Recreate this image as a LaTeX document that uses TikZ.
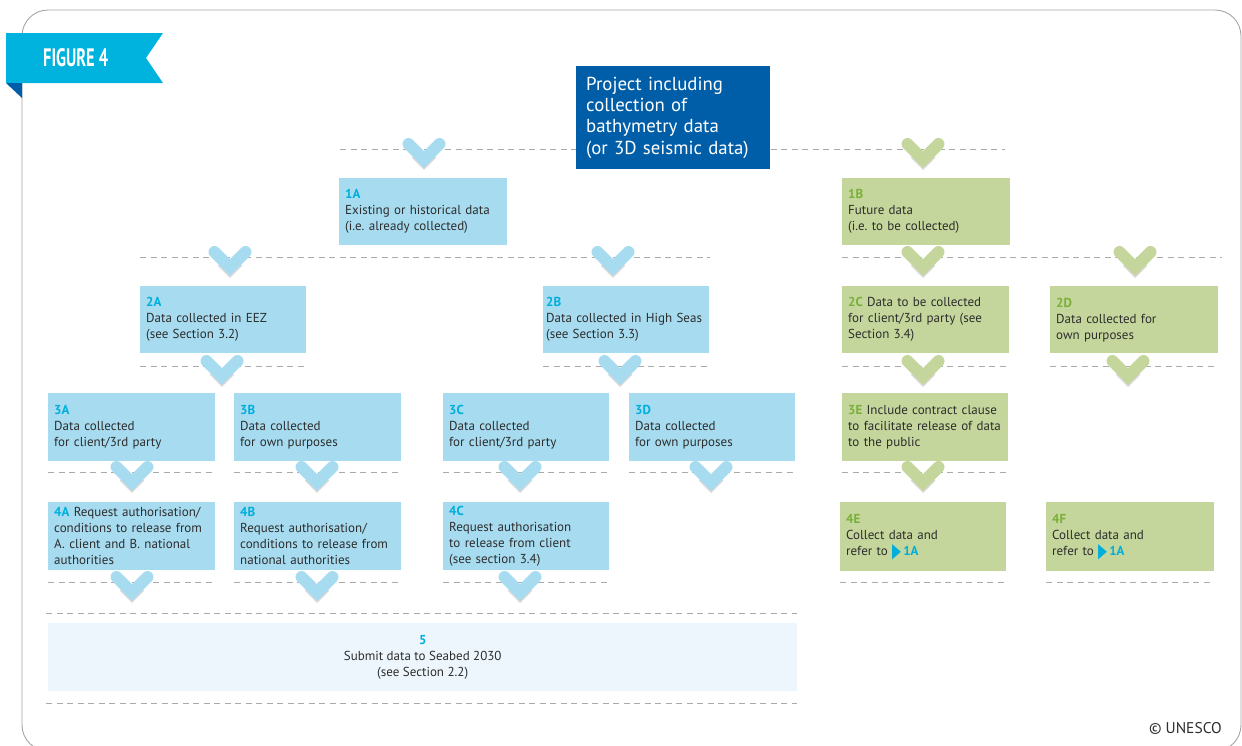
\documentclass[tikz,border=0pt]{standalone}
\usepackage{fontspec}
\setmainfont{PT Sans}
\newfontfamily\symfont{DejaVu Sans}
\usetikzlibrary{calc}
\definecolor{boxblue}{RGB}{167,219,240}
\definecolor{labcyan}{RGB}{0,174,219}
\definecolor{boxgreen}{RGB}{196,214,155}
\definecolor{labgreen}{RGB}{122,176,58}
\definecolor{navy}{RGB}{0,94,168}
\definecolor{bannercyan}{RGB}{0,178,222}
\definecolor{pale}{RGB}{237,246,252}
\definecolor{textgray}{RGB}{45,45,45}
\definecolor{dashgray}{RGB}{170,170,170}
\definecolor{framegray}{RGB}{165,165,165}
\newcommand\blab[1]{{\bfseries\color{labcyan}#1}}
\newcommand\glab[1]{{\bfseries\color{labgreen}#1}}
\newcommand\reftri{{\color{labcyan}\raisebox{-2pt}{\resizebox{9pt}{13pt}{\symfont ▶}}}\,\blab{1A}}
\newcommand\chevron[3]{%
  \draw[chevshadow] (#1-8,#2+4.5) -- (#1,#2+12.5) -- (#1+8,#2+4.5);
  \draw[#3] (#1-15.5,#2-5) -- (#1,#2+10.5) -- (#1+15.5,#2-5);}
\tikzset{
  bx/.style={rectangle, anchor=north west, inner xsep=6pt, inner ysep=0pt, align=left,
    font=\fontsize{13}{16}\selectfont, text=textgray, minimum height=67pt},
  bluebox/.style={bx, fill=boxblue},
  greenbox/.style={bx, fill=boxgreen},
  dline/.style={draw=dashgray, line width=1pt, dash pattern=on 6pt off 4.5pt},
  chevshadow/.style={draw=gray, opacity=0.3, line width=12pt, line cap=butt, line join=miter},
  chevb/.style={draw=boxblue, line width=12pt, line cap=round, line join=miter},
  chevg/.style={draw=boxgreen, line width=12pt, line cap=round, line join=miter},
}
\begin{document}
\begin{tikzpicture}[x=1pt,y=-1pt]
\useasboundingbox (0,0) rectangle (1242,745);
\clip (0,0) rectangle (1242,745);
% frame
\draw[framegray, line width=0.9pt, rounded corners=26pt] (22,10) rectangle (1241,751);
% banner
\fill[bannercyan] (6,33) -- (163,33) -- (146,58) -- (163,83) -- (6,83) -- cycle;
\fill[navy] (6,83) -- (22,83) -- (22,98) -- cycle;
\node[text=white, anchor=base west, inner sep=0pt] (fig) at (43,66) {\resizebox{65pt}{18pt}{\bfseries FIGURE 4}};
% dashed lines
\draw[dline] (340,149) -- (1005,149);
\draw[dline] (140,257) -- (710,257);
\draw[dline] (842,257) -- (1222,257);
\draw[dline] (140,366) -- (306,366);
\draw[dline] (543,366) -- (709,366);
\draw[dline] (842,366) -- (1009,366);
\draw[dline] (1050,366) -- (1218,366);
\draw[dline] (48,472) -- (215,472);
\draw[dline] (234,472) -- (401,472);
\draw[dline] (443,472) -- (609,472);
\draw[dline] (629,472) -- (795,472);
\draw[dline] (842,472) -- (1008,472);
\draw[dline] (48,582) -- (215,582);
\draw[dline] (234,582) -- (401,582);
\draw[dline] (443,582) -- (609,582);
\draw[dline] (840,582) -- (1006,582);
\draw[dline] (1046,582) -- (1214,582);
\draw[dline] (46,613) -- (797,613);
\draw[dline] (46,703) -- (797,703);
% top box
\node[anchor=north west, fill=navy, text=white, minimum height=103pt, text width=174pt,
  inner xsep=10pt, inner ysep=0pt, align=left, font=\fontsize{18.8}{21.3}\selectfont] (top) at (576,66)
  {Project including\\collection of\\bathymetry data\\(or 3D seismic data)};
% level 1
\node[bluebox, text width=156pt] (n1A) at (339,178) {\blab{1A}\\Existing or historical data\\(i.e.\ already collected)};
\node[greenbox, text width=156pt] (n1B) at (842,178) {\glab{1B}\\Future data\\(i.e.\ to be collected)};
% level 2
\node[bluebox, text width=154pt] (n2A) at (140,286) {\blab{2A}\\Data collected in EEZ\\(see Section 3.2)};
\node[bluebox, text width=160pt, inner xsep=3pt] (n2B) at (543,286) {\blab{2B}\\Data collected in High Seas\\(see Section 3.3)};
\node[greenbox, text width=155pt] (n2C) at (842,286) {\glab{2C} Data to be collected\\for client/3rd party (see\\Section 3.4)};
\node[greenbox, text width=156pt] (n2D) at (1050,286) {\glab{2D}\\Data collected for\\own purposes};
% level 3
\node[bluebox, text width=155pt, minimum height=68pt] (n3A) at (48,393) {\blab{3A}\\Data collected\\for client/3rd party};
\node[bluebox, text width=155pt, minimum height=68pt] (n3B) at (234,393) {\blab{3B}\\Data collected\\for own purposes};
\node[bluebox, text width=154pt, minimum height=68pt] (n3C) at (443,393) {\blab{3C}\\Data collected\\for client/3rd party};
\node[bluebox, text width=154pt, minimum height=68pt] (n3D) at (629,393) {\blab{3D}\\Data collected\\for own purposes};
\node[greenbox, text width=154pt, minimum height=68pt] (n3E) at (842,393) {\glab{3E} Include contract clause\\to facilitate release of data\\to the public};
% level 4
\node[bluebox, text width=155pt, minimum height=68pt] (n4A) at (48,502) {\blab{4A} Request authorisation/\\conditions to release from\\A. client and B. national\\authorities};
\node[bluebox, text width=155pt, minimum height=68pt] (n4B) at (234,502) {\blab{4B}\\Request authorisation/\\conditions to release from\\national authorities};
\node[bluebox, text width=154pt, minimum height=68pt] (n4C) at (443,502) {\blab{4C}\\Request authorisation\\to release from client\\(see section 3.4)};
\node[greenbox, text width=154pt, minimum height=69pt] (n4E) at (840,502) {\glab{4E}\\Collect data and\\refer to \reftri};
\node[greenbox, text width=156pt, minimum height=69pt] (n4F) at (1046,502) {\glab{4F}\\Collect data and\\refer to \reftri};
% level 5
\node[anchor=north west, fill=pale, minimum width=749pt, minimum height=68pt, inner sep=0pt,
  align=center, font=\fontsize{13}{16}\selectfont, text=textgray] (n5) at (48,623)
  {\blab{5}\\Submit data to Seabed 2030\\(see Section 2.2)};
% chevrons
\chevron{424}{149}{chevb}
\chevron{923}{149}{chevg}
\chevron{230}{257}{chevb}
\chevron{613}{257}{chevb}
\chevron{923}{257}{chevg}
\chevron{1135}{257}{chevg}
\chevron{222}{366}{chevb}
\chevron{620}{366}{chevb}
\chevron{923}{366}{chevg}
\chevron{1128}{366}{chevg}
\chevron{132}{472}{chevb}
\chevron{317}{472}{chevb}
\chevron{520}{472}{chevb}
\chevron{711}{472}{chevb}
\chevron{923}{472}{chevg}
\chevron{132}{582}{chevb}
\chevron{317}{582}{chevb}
\chevron{520}{582}{chevb}
% copyright
\node[anchor=base east, inner sep=0pt, font=\fontsize{15.5}{17}\selectfont, text=textgray] (copy) at (1222,733) {© UNESCO};
\end{tikzpicture}
\end{document}
